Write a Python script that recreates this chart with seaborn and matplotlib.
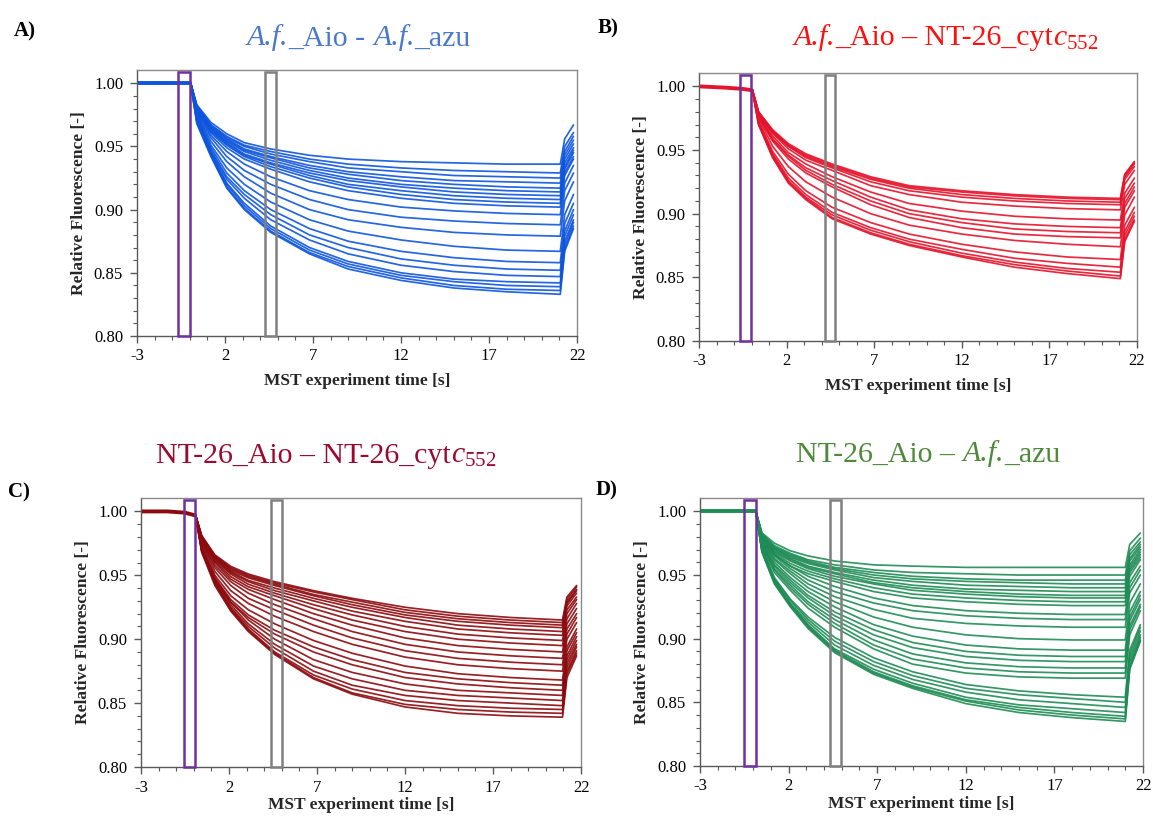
import matplotlib
matplotlib.use("Agg")
import matplotlib.pyplot as plt
import seaborn as sns
import pandas as pd
from matplotlib.patches import Rectangle
from matplotlib.ticker import FormatStrFormatter
from matplotlib.offsetbox import TextArea, HPacker, AnnotationBbox

# ---------------- data ----------------
X_TICKS = [-3, 2, 7, 12, 17, 22]
Y_TICKS = [0.80, 0.85, 0.90, 0.95, 1.00]

# Panel A : A.f._Aio - A.f._azu
A_PRE_T = [-3.0, -1.5, -0.6, 0.0]
A_PRE_V = [1.000, 1.000, 1.000, 1.000]
A_T = [0.05, 0.4, 1.2, 2.1, 3.1, 4.6, 6.8, 9.0, 12.0, 15.0, 18.0, 21.05]
A_CURVES = [
    [1.000, 0.983, 0.969, 0.960, 0.953, 0.948, 0.943, 0.940, 0.938, 0.937, 0.936, 0.936],
    [1.000, 0.982, 0.967, 0.958, 0.951, 0.946, 0.940, 0.936, 0.933, 0.931, 0.930, 0.929],
    [1.000, 0.982, 0.967, 0.957, 0.950, 0.944, 0.938, 0.933, 0.930, 0.927, 0.926, 0.925],
    [1.000, 0.981, 0.966, 0.956, 0.948, 0.942, 0.935, 0.930, 0.926, 0.923, 0.922, 0.921],
    [1.000, 0.981, 0.965, 0.955, 0.947, 0.941, 0.933, 0.928, 0.923, 0.920, 0.918, 0.917],
    [1.000, 0.980, 0.964, 0.954, 0.946, 0.939, 0.931, 0.925, 0.920, 0.917, 0.915, 0.914],
    [1.000, 0.980, 0.964, 0.953, 0.944, 0.937, 0.929, 0.923, 0.918, 0.914, 0.912, 0.911],
    [1.000, 0.980, 0.963, 0.952, 0.943, 0.936, 0.927, 0.920, 0.915, 0.911, 0.909, 0.908],
    [1.000, 0.979, 0.962, 0.951, 0.942, 0.934, 0.925, 0.918, 0.912, 0.908, 0.906, 0.905],
    [1.000, 0.979, 0.961, 0.949, 0.940, 0.932, 0.922, 0.915, 0.909, 0.905, 0.903, 0.902],
    [1.000, 0.978, 0.959, 0.946, 0.936, 0.926, 0.915, 0.908, 0.902, 0.899, 0.897, 0.896],
    [1.000, 0.977, 0.957, 0.942, 0.931, 0.920, 0.908, 0.900, 0.894, 0.891, 0.889, 0.888],
    [1.000, 0.976, 0.954, 0.938, 0.926, 0.913, 0.900, 0.892, 0.886, 0.882, 0.880, 0.879],
    [1.000, 0.975, 0.951, 0.933, 0.920, 0.906, 0.892, 0.883, 0.876, 0.871, 0.868, 0.867],
    [1.000, 0.974, 0.949, 0.929, 0.915, 0.900, 0.885, 0.875, 0.867, 0.862, 0.859, 0.858],
    [1.000, 0.973, 0.947, 0.926, 0.912, 0.896, 0.880, 0.870, 0.861, 0.856, 0.853, 0.852],
    [1.000, 0.972, 0.946, 0.924, 0.909, 0.892, 0.876, 0.865, 0.856, 0.851, 0.848, 0.847],
    [1.000, 0.971, 0.945, 0.921, 0.905, 0.887, 0.870, 0.859, 0.850, 0.845, 0.843, 0.842],
    [1.000, 0.970, 0.944, 0.920, 0.903, 0.885, 0.868, 0.857, 0.848, 0.843, 0.840, 0.839],
    [1.000, 0.969, 0.943, 0.918, 0.901, 0.883, 0.866, 0.855, 0.846, 0.840, 0.837, 0.836],
    [1.000, 0.968, 0.942, 0.917, 0.900, 0.882, 0.865, 0.853, 0.844, 0.838, 0.835, 0.833],
]
A_JUMP_T = [21.3, 21.8]
A_JUMP_1 = [0.956, 0.950, 0.946, 0.943, 0.940, 0.937, 0.934, 0.932, 0.929, 0.927, 0.921,
            0.915, 0.907, 0.896, 0.889, 0.883, 0.879, 0.875, 0.872, 0.869, 0.867]
A_JUMP_2 = [0.967, 0.961, 0.958, 0.955, 0.952, 0.949, 0.947, 0.945, 0.942, 0.940, 0.935,
            0.929, 0.922, 0.912, 0.905, 0.900, 0.896, 0.892, 0.890, 0.887, 0.885]
A_PURPLE = [-0.66, 0.0]
A_GRAY = [4.30, 4.92]

# Panel B : A.f._Aio - NT-26_cytc552
B_PRE_T = [-3.0, -1.5, -0.5, 0.0]
B_PRE_V = [1.000, 0.999, 0.998, 0.997]
B_T = [0.05, 0.4, 1.2, 2.1, 3.1, 4.6, 6.8, 9.0, 12.0, 15.0, 18.0, 21.05]
B_CURVES = [
    [0.997, 0.980, 0.966, 0.955, 0.947, 0.939, 0.929, 0.922, 0.918, 0.915, 0.913, 0.912],
    [0.997, 0.980, 0.965, 0.954, 0.946, 0.938, 0.928, 0.921, 0.917, 0.914, 0.912, 0.911],
    [0.997, 0.979, 0.964, 0.953, 0.945, 0.937, 0.927, 0.920, 0.915, 0.912, 0.910, 0.909],
    [0.997, 0.979, 0.964, 0.953, 0.944, 0.936, 0.925, 0.918, 0.913, 0.910, 0.908, 0.907],
    [0.997, 0.979, 0.963, 0.951, 0.942, 0.934, 0.922, 0.915, 0.909, 0.906, 0.904, 0.903],
    [0.997, 0.978, 0.961, 0.948, 0.939, 0.929, 0.917, 0.908, 0.902, 0.898, 0.896, 0.895],
    [0.997, 0.977, 0.959, 0.946, 0.936, 0.926, 0.913, 0.903, 0.896, 0.892, 0.890, 0.889],
    [0.997, 0.977, 0.958, 0.945, 0.934, 0.923, 0.910, 0.900, 0.893, 0.888, 0.886, 0.885],
    [0.997, 0.976, 0.957, 0.943, 0.932, 0.921, 0.907, 0.897, 0.889, 0.884, 0.882, 0.881],
    [0.997, 0.975, 0.953, 0.937, 0.925, 0.913, 0.900, 0.891, 0.884, 0.879, 0.876, 0.874],
    [0.997, 0.973, 0.949, 0.931, 0.918, 0.905, 0.893, 0.884, 0.876, 0.870, 0.866, 0.864],
    [0.997, 0.972, 0.947, 0.928, 0.915, 0.901, 0.889, 0.880, 0.872, 0.865, 0.861, 0.858],
    [0.997, 0.971, 0.946, 0.926, 0.913, 0.899, 0.887, 0.878, 0.869, 0.862, 0.857, 0.854],
    [0.997, 0.970, 0.945, 0.925, 0.912, 0.897, 0.885, 0.876, 0.867, 0.860, 0.855, 0.851],
    [0.997, 0.970, 0.944, 0.924, 0.911, 0.896, 0.884, 0.875, 0.866, 0.858, 0.853, 0.849],
]
B_JUMP_T = [21.3, 21.85]
B_JUMP_1 = [0.931, 0.930, 0.929, 0.927, 0.923, 0.916, 0.912, 0.908, 0.905, 0.899,
            0.891, 0.886, 0.883, 0.880, 0.878]
B_JUMP_2 = [0.941, 0.940, 0.939, 0.937, 0.934, 0.928, 0.924, 0.921, 0.918, 0.913,
            0.905, 0.901, 0.898, 0.895, 0.894]
B_PURPLE = [-0.68, -0.05]
B_GRAY = [4.19, 4.79]

# Panel C : NT-26_Aio - NT-26_cytc552
C_PRE_T = [-3.0, -1.5, -0.5, 0.05]
C_PRE_V = [1.000, 1.000, 0.999, 0.997]
C_T = [0.1, 0.45, 1.2, 2.1, 3.1, 4.6, 6.8, 9.0, 12.0, 15.0, 18.0, 20.95]
C_CURVES = [
    [0.997, 0.981, 0.966, 0.957, 0.951, 0.945, 0.938, 0.932, 0.925, 0.920, 0.917, 0.915],
    [0.997, 0.981, 0.965, 0.956, 0.950, 0.944, 0.937, 0.931, 0.923, 0.918, 0.915, 0.913],
    [0.997, 0.980, 0.965, 0.955, 0.949, 0.943, 0.935, 0.929, 0.921, 0.916, 0.913, 0.911],
    [0.997, 0.980, 0.964, 0.954, 0.948, 0.942, 0.934, 0.927, 0.919, 0.914, 0.911, 0.909],
    [0.997, 0.980, 0.964, 0.953, 0.946, 0.940, 0.932, 0.925, 0.917, 0.911, 0.908, 0.906],
    [0.997, 0.979, 0.963, 0.952, 0.945, 0.938, 0.930, 0.922, 0.914, 0.908, 0.905, 0.903],
    [0.997, 0.979, 0.962, 0.951, 0.943, 0.936, 0.927, 0.919, 0.910, 0.904, 0.901, 0.899],
    [0.997, 0.978, 0.961, 0.949, 0.941, 0.934, 0.924, 0.915, 0.906, 0.900, 0.897, 0.895],
    [0.997, 0.978, 0.960, 0.947, 0.939, 0.931, 0.920, 0.911, 0.901, 0.895, 0.892, 0.890],
    [0.997, 0.977, 0.958, 0.945, 0.936, 0.927, 0.916, 0.906, 0.896, 0.890, 0.887, 0.885],
    [0.997, 0.976, 0.956, 0.942, 0.932, 0.923, 0.911, 0.901, 0.891, 0.885, 0.882, 0.880],
    [0.997, 0.975, 0.953, 0.938, 0.928, 0.918, 0.906, 0.896, 0.886, 0.880, 0.877, 0.875],
    [0.997, 0.973, 0.950, 0.934, 0.923, 0.912, 0.899, 0.889, 0.879, 0.873, 0.870, 0.868],
    [0.997, 0.972, 0.948, 0.931, 0.919, 0.907, 0.894, 0.884, 0.874, 0.869, 0.866, 0.864],
    [0.997, 0.971, 0.947, 0.929, 0.917, 0.904, 0.890, 0.880, 0.870, 0.865, 0.862, 0.860],
    [0.997, 0.971, 0.947, 0.929, 0.915, 0.900, 0.884, 0.874, 0.865, 0.860, 0.858, 0.856],
    [0.997, 0.970, 0.946, 0.927, 0.912, 0.896, 0.879, 0.869, 0.860, 0.856, 0.854, 0.852],
    [0.997, 0.970, 0.945, 0.925, 0.910, 0.893, 0.875, 0.864, 0.856, 0.852, 0.850, 0.848],
    [0.997, 0.969, 0.944, 0.924, 0.908, 0.890, 0.872, 0.861, 0.852, 0.848, 0.846, 0.845],
    [0.997, 0.969, 0.943, 0.923, 0.907, 0.889, 0.870, 0.858, 0.849, 0.845, 0.843, 0.842],
    [0.997, 0.968, 0.942, 0.922, 0.906, 0.888, 0.869, 0.857, 0.847, 0.842, 0.840, 0.839],
]
C_JUMP_T = [21.2, 21.75]
C_JUMP_1 = [0.933, 0.931, 0.929, 0.928, 0.926, 0.923, 0.920, 0.916, 0.912, 0.908, 0.904,
            0.900, 0.894, 0.891, 0.887, 0.884, 0.881, 0.878, 0.875, 0.873, 0.870]
C_JUMP_2 = [0.942, 0.941, 0.939, 0.938, 0.936, 0.933, 0.931, 0.928, 0.924, 0.920, 0.917,
            0.913, 0.908, 0.905, 0.902, 0.899, 0.896, 0.894, 0.891, 0.889, 0.887]
C_PURPLE = [-0.54, 0.07]
C_GRAY = [4.39, 4.99]

# Panel D : NT-26_Aio - A.f._azu
D_PRE_T = [-3.0, -1.5, -0.5, 0.1]
D_PRE_V = [1.000, 1.000, 1.000, 1.000]
D_T = [0.15, 0.5, 1.2, 2.1, 3.1, 4.6, 6.8, 9.0, 12.0, 15.0, 18.0, 21.0]
D_CURVES = [
    [1.000, 0.983, 0.975, 0.969, 0.965, 0.961, 0.958, 0.957, 0.956, 0.956, 0.956, 0.956],
    [1.000, 0.982, 0.973, 0.967, 0.962, 0.958, 0.954, 0.952, 0.951, 0.950, 0.950, 0.950],
    [1.000, 0.982, 0.972, 0.966, 0.961, 0.956, 0.952, 0.949, 0.947, 0.946, 0.946, 0.946],
    [1.000, 0.981, 0.971, 0.965, 0.960, 0.955, 0.950, 0.947, 0.945, 0.944, 0.943, 0.943],
    [1.000, 0.981, 0.971, 0.964, 0.959, 0.954, 0.948, 0.945, 0.942, 0.941, 0.940, 0.940],
    [1.000, 0.980, 0.970, 0.963, 0.957, 0.952, 0.946, 0.942, 0.939, 0.938, 0.937, 0.937],
    [1.000, 0.980, 0.969, 0.962, 0.956, 0.951, 0.944, 0.940, 0.937, 0.935, 0.934, 0.934],
    [1.000, 0.980, 0.968, 0.961, 0.955, 0.949, 0.943, 0.938, 0.935, 0.933, 0.932, 0.932],
    [1.000, 0.979, 0.967, 0.959, 0.953, 0.947, 0.940, 0.935, 0.932, 0.930, 0.929, 0.929],
    [1.000, 0.979, 0.966, 0.957, 0.951, 0.945, 0.937, 0.932, 0.929, 0.927, 0.926, 0.926],
    [1.000, 0.979, 0.966, 0.957, 0.949, 0.941, 0.932, 0.926, 0.922, 0.920, 0.919, 0.919],
    [1.000, 0.978, 0.965, 0.955, 0.946, 0.937, 0.928, 0.922, 0.918, 0.916, 0.915, 0.915],
    [1.000, 0.978, 0.963, 0.953, 0.943, 0.933, 0.923, 0.916, 0.912, 0.910, 0.909, 0.909],
    [1.000, 0.977, 0.962, 0.951, 0.940, 0.929, 0.917, 0.909, 0.903, 0.900, 0.899, 0.899],
    [1.000, 0.976, 0.960, 0.948, 0.937, 0.925, 0.911, 0.902, 0.895, 0.892, 0.891, 0.891],
    [1.000, 0.975, 0.958, 0.946, 0.934, 0.921, 0.907, 0.897, 0.890, 0.887, 0.886, 0.886],
    [1.000, 0.975, 0.957, 0.944, 0.932, 0.918, 0.903, 0.893, 0.886, 0.883, 0.882, 0.882],
    [1.000, 0.974, 0.955, 0.942, 0.929, 0.915, 0.899, 0.888, 0.881, 0.878, 0.877, 0.877],
    [1.000, 0.973, 0.954, 0.940, 0.927, 0.912, 0.895, 0.884, 0.877, 0.874, 0.873, 0.873],
    [1.000, 0.972, 0.952, 0.938, 0.924, 0.909, 0.892, 0.880, 0.873, 0.870, 0.869, 0.869],
    [1.000, 0.971, 0.948, 0.931, 0.917, 0.901, 0.885, 0.874, 0.864, 0.859, 0.856, 0.854],
    [1.000, 0.970, 0.947, 0.930, 0.915, 0.898, 0.882, 0.871, 0.861, 0.856, 0.853, 0.850],
    [1.000, 0.970, 0.946, 0.928, 0.913, 0.895, 0.879, 0.868, 0.858, 0.852, 0.849, 0.846],
    [1.000, 0.969, 0.945, 0.927, 0.911, 0.892, 0.876, 0.865, 0.854, 0.848, 0.845, 0.842],
    [1.000, 0.969, 0.944, 0.926, 0.910, 0.891, 0.874, 0.863, 0.852, 0.846, 0.842, 0.839],
    [1.000, 0.968, 0.944, 0.926, 0.909, 0.890, 0.873, 0.862, 0.851, 0.844, 0.840, 0.837],
    [1.000, 0.968, 0.943, 0.925, 0.908, 0.889, 0.872, 0.861, 0.849, 0.842, 0.838, 0.835],
]
D_JUMP_T = [21.25, 21.85]
D_JUMP_1 = [0.974, 0.969, 0.966, 0.963, 0.961, 0.958, 0.956, 0.954, 0.952, 0.949, 0.944,
            0.940, 0.936, 0.928, 0.921, 0.917, 0.914, 0.910, 0.907, 0.903, 0.891, 0.888,
            0.885, 0.882, 0.879, 0.877, 0.876]
D_JUMP_2 = [0.983, 0.979, 0.976, 0.974, 0.972, 0.970, 0.968, 0.966, 0.964, 0.962, 0.957,
            0.954, 0.950, 0.943, 0.937, 0.934, 0.931, 0.927, 0.925, 0.922, 0.911, 0.909,
            0.906, 0.903, 0.901, 0.899, 0.898]
D_PURPLE = [-0.50, 0.14]
D_GRAY = [4.34, 4.93]

# title pieces: (text, style) with style n = normal, i = italic, m = mathtext (italic c + subscript)
A_TITLE = [("A.f.", "i"), ("_Aio - ", "n"), ("A.f.", "i"), ("_azu", "n")]
B_TITLE = [("A.f.", "i"), ("_Aio – NT-26_cyt", "n"), (r"$\mathit{c}_{\mathrm{552}}$", "m")]
C_TITLE = [("NT-26_Aio – NT-26_cyt", "n"), (r"$\mathit{c}_{\mathrm{552}}$", "m")]
D_TITLE = [("NT-26_Aio – ", "n"), ("A.f.", "i"), ("_azu", "n")]
LABELS = ["A)", "B)", "C)", "D)"]

# ---------------- style ----------------
sns.set_theme(style="ticks")
plt.rcParams['font.family'] = ['Liberation Serif', 'DejaVu Serif']
plt.rcParams['mathtext.fontset'] = 'custom'
plt.rcParams['mathtext.rm'] = 'Liberation Serif'
plt.rcParams['mathtext.it'] = 'Liberation Serif:italic'
plt.rcParams['mathtext.bf'] = 'Liberation Serif:bold'
plt.rcParams['axes.unicode_minus'] = False

W, H = 1153, 818
fig = plt.figure(figsize=(W / 100, H / 100), dpi=100)
fig.patch.set_facecolor('white')


def px_rect(l, t, r, b):
    return [l / W, 1 - b / H, (r - l) / W, (b - t) / H]


panels = [
    dict(rect=px_rect(137, 70, 577, 336), pre_t=A_PRE_T, pre_v=A_PRE_V, T=A_T, curves=A_CURVES,
         jt=A_JUMP_T, j1=A_JUMP_1, j2=A_JUMP_2, purple=A_PURPLE, gray=A_GRAY, title=A_TITLE,
         color='#0d55dd', tcolor='#4a78cc', title_xy=(359, 38), lab_xy=(14, 31), xpad=6),
    dict(rect=px_rect(699, 73, 1137, 341), pre_t=B_PRE_T, pre_v=B_PRE_V, T=B_T, curves=B_CURVES,
         jt=B_JUMP_T, j1=B_JUMP_1, j2=B_JUMP_2, purple=B_PURPLE, gray=B_GRAY, title=B_TITLE,
         color='#e4142c', tcolor='#ff1010', title_xy=(946, 38), lab_xy=(598, 28), xpad=6),
    dict(rect=px_rect(141, 498, 581, 767), pre_t=C_PRE_T, pre_v=C_PRE_V, T=C_T, curves=C_CURVES,
         jt=C_JUMP_T, j1=C_JUMP_1, j2=C_JUMP_2, purple=C_PURPLE, gray=C_GRAY, title=C_TITLE,
         color='#8c0a0e', tcolor='#9a0a30', title_xy=(326, 456), lab_xy=(8, 492), xpad=1),
    dict(rect=px_rect(700, 498, 1143, 766), pre_t=D_PRE_T, pre_v=D_PRE_V, T=D_T, curves=D_CURVES,
         jt=D_JUMP_T, j1=D_JUMP_1, j2=D_JUMP_2, purple=D_PURPLE, gray=D_GRAY, title=D_TITLE,
         color='#1f8c55', tcolor='#4f8a3a', title_xy=(928, 454), lab_xy=(596, 490), xpad=1),
]

BOX_BOTTOM = 0.80
BOX_TOP = 1.009
TITLE_SIZE = 21.5

for p, lab in zip(panels, LABELS):
    ax = fig.add_axes(p['rect'])
    rows = []
    for i, (c, a, b) in enumerate(zip(p['curves'], p['j1'], p['j2'])):
        ts = [p['pre_t'][-1]] + list(p['T']) + list(p['jt'])
        vs = [p['pre_v'][-1]] + list(c) + [a, b]
        for t, v in zip(ts, vs):
            rows.append((i, t, v))
    df = pd.DataFrame(rows, columns=['curve', 't', 'v'])
    sns.lineplot(data=df, x='t', y='v', units='curve', estimator=None, sort=False,
                 color=p['color'], lw=1.25, alpha=0.9, ax=ax, legend=False)
    pre_df = pd.DataFrame({'t': p['pre_t'], 'v': p['pre_v']})
    sns.lineplot(data=pre_df, x='t', y='v', color=p['color'], lw=2.8, ax=ax,
                 estimator=None, legend=False)

    for (t0, t1), ec in [(p['purple'], '#7030a0'), (p['gray'], '#808080')]:
        ax.add_patch(Rectangle((t0, BOX_BOTTOM), t1 - t0, BOX_TOP - BOX_BOTTOM,
                               fill=False, ec=ec, lw=1.8, zorder=5, clip_on=False))

    ax.set_xlim(-3, 22)
    ax.set_ylim(0.80, 1.0105)
    ax.set_xticks(X_TICKS)
    ax.set_xticks(range(-3, 23), minor=True)
    ax.set_yticks(Y_TICKS)
    ax.set_yticks([0.80 + 0.01 * k for k in range(21)], minor=True)
    ax.yaxis.set_major_formatter(FormatStrFormatter('%.2f'))
    ax.tick_params(axis='both', which='major', direction='out', length=5, width=1,
                   color='#595959', labelsize=12, pad=5, labelcolor='black')
    ax.tick_params(axis='x', which='major', pad=4)
    ax.tick_params(axis='both', which='minor', direction='out', length=3, width=0.8,
                   color='#595959')
    for side in ['top', 'right']:
        ax.spines[side].set_color('#8a8a8a')
        ax.spines[side].set_linewidth(1.0)
    for side in ['left', 'bottom']:
        ax.spines[side].set_color('#595959')
        ax.spines[side].set_linewidth(1.0)
    ax.set_xlabel("MST experiment time [s]", fontsize=12.5, fontweight='bold',
                  labelpad=p['xpad'])
    ax.set_ylabel("Relative Fluorescence [-]", fontsize=12.5, fontweight='bold', labelpad=5)
    ax.set_facecolor('white')

    # mixed-style title
    children = []
    for txt, sty in p['title']:
        props = dict(color=p['tcolor'], fontsize=TITLE_SIZE)
        if sty == 'i':
            props['style'] = 'italic'
        children.append(TextArea(txt, textprops=props))
    box = HPacker(children=children, align='baseline', pad=0, sep=0)
    tx, ty = p['title_xy']
    ab = AnnotationBbox(box, (tx / W, 1 - ty / H), xycoords='figure fraction',
                        frameon=False, box_alignment=(0.5, 0.5), pad=0)
    fig.add_artist(ab)

    lx, ly = p['lab_xy']
    fig.text(lx / W, 1 - ly / H, lab, ha='left', va='center', fontsize=15,
             fontweight='bold', color='black')

fig.savefig("out.png", dpi=100, facecolor='white')
